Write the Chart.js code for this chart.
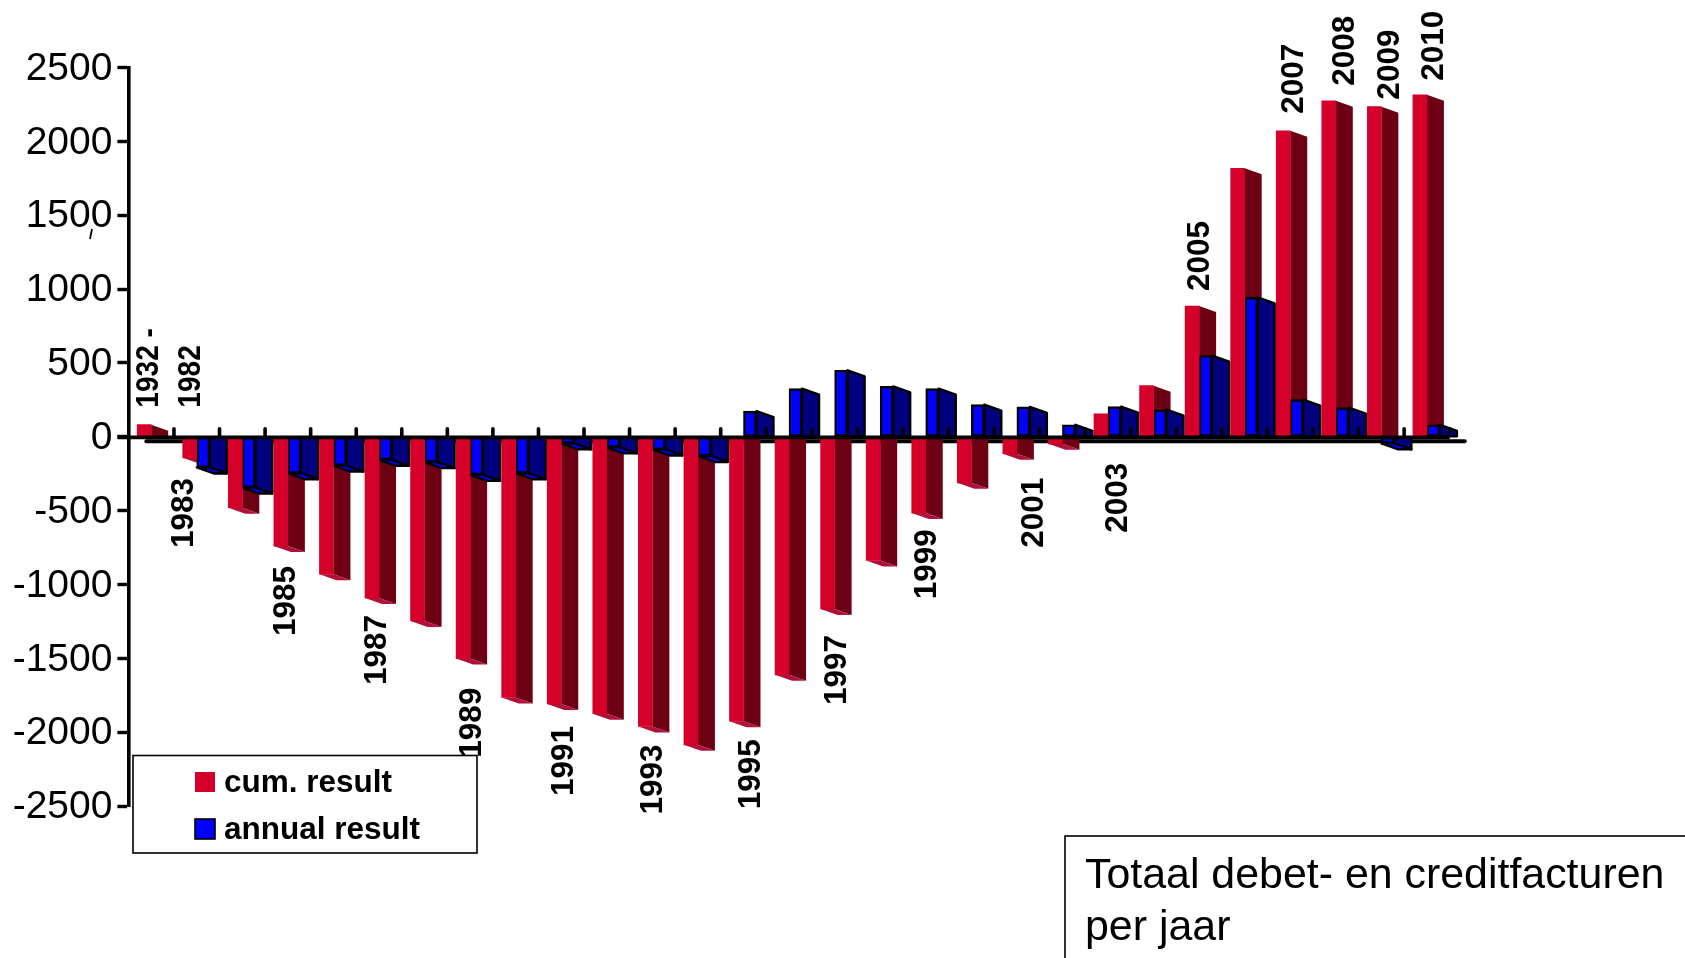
<!DOCTYPE html>
<html>
<head>
<meta charset="utf-8">
<title>Totaal debet- en creditfacturen per jaar</title>
<script src="https://cdn.jsdelivr.net/npm/chart.js@4/dist/chart.umd.js"></script>
<style>
  html, body { margin: 0; padding: 0; background: #fff; }
  canvas { display: block; }
</style>
</head>
<body>
<canvas id="myChart" width="1685" height="958"></canvas>
<script>
// datos
const jaren = ["1932-1982", "1983", "1984", "1985", "1986", "1987", "1988", "1989", "1990", "1991",
  "1992", "1993", "1994", "1995", "1996", "1997", "1998", "1999", "2000", "2001",
  "2002", "2003", "2004", "2005", "2006", "2007", "2008", "2009", "2010"];
const cumResult = [82, -143, -480, -740, -931, -1092, -1247, -1502, -1765, -1809,
  -1875, -1962, -2086, -1926, -1612, -1166, -838, -517, -312, -115,
  -48, 156, 346, 885, 1818, 2072, 2275, 2235, 2315];
const annualResult = [0, -208, -344, -247, -195, -156, -172, -258, -247, -45,
  -72, -86, -130, 173, 326, 450, 341, 326, 217, 202,
  81, 204, 183, 550, 944, 251, 197, -45, 81];
const yTicks = [2500, 2000, 1500, 1000, 500, 0, -500, -1000, -1500, -2000, -2500];

// etiquetas giradas: texto y categoria
const labelTexts = ["1932 -", "1982", "1983", "1985", "1987", "1989", "1991", "1993", "1995", "1997",
  "1999", "2001", "2003", "2005", "2007", "2008", "2009", "2010"];
const labelIndex = [0, 0, 1, 3, 5, 7, 9, 11, 13, 15, 17, 19, 21, 23, 25, 26, 27, 28];

// colocacion de las etiquetas respecto a la barra roja (no son datos)
const labelDx = [-2, 40, -12, -2, -2, 2, 3, 1, 8, 3, 2, 17, 10, 1, 4, 10, 9, 7];
const labelDy = [-17, -17, 20, 20, 17, 29, 22, 18, 18, 26, 16, 24, 49, -15, -17, -15, -7, -14];

const captionLines = ["Totaal debet- en creditfacturen", "per jaar"];

const ROJO = "#d40029", ROJO_LADO = "#6e0014", ROJO_BASE = "#b0103a";
const AZUL = "#0000ff", AZUL_LADO = "#000080";
const FUENTE = '"Liberation Sans", Arial, sans-serif';
const DEPTH_X = 17, DEPTH_Y = 6;

function polygon(ctx, pts, fill, stroke) {
  ctx.beginPath();
  pts.forEach((p, i) => (i ? ctx.lineTo(p[0], p[1]) : ctx.moveTo(p[0], p[1])));
  ctx.closePath();
  ctx.fillStyle = fill;
  ctx.fill();
  if (stroke) {
    ctx.strokeStyle = stroke;
    ctx.lineWidth = 2.4;
    ctx.lineJoin = "round";
    ctx.stroke();
  }
}

// caras laterales del efecto 3D, salen de la posicion real de cada barra
function drawFaces(chart, datasetIndex, side, bottom, stroke) {
  const ctx = chart.ctx;
  chart.getDatasetMeta(datasetIndex).data.forEach(bar => {
    const { x, y, base, width } = bar.getProps(["x", "y", "base", "width"], true);
    const left = x - width / 2, right = x + width / 2;
    if (y === base) return;
    if (y < base) {
      polygon(ctx, [[right, y], [right + DEPTH_X, y + DEPTH_Y], [right + DEPTH_X, base], [right, base]], side, stroke);
    } else {
      polygon(ctx, [[right, base], [right + DEPTH_X, base], [right + DEPTH_X, y + DEPTH_Y], [right, y]], side, stroke);
      polygon(ctx, [[left, y], [right, y], [right + DEPTH_X, y + DEPTH_Y], [left + DEPTH_X, y + DEPTH_Y]], bottom, stroke);
    }
  });
}

const faces3d = {
  id: "faces3d",
  beforeDatasetsDraw(chart) {
    const ctx = chart.ctx, area = chart.chartArea;
    const y0 = chart.scales.y.getPixelForValue(0);
    // eje del fondo, queda detras de las barras
    ctx.save();
    ctx.strokeStyle = "#000";
    ctx.lineWidth = 4;
    ctx.lineCap = "round";
    ctx.beginPath();
    ctx.moveTo(area.left + 18, y0 + 4.4);
    ctx.lineTo(area.right + 15, y0 + 4.4);
    ctx.stroke();
    drawFaces(chart, 0, ROJO_LADO, ROJO_BASE, null);
    drawFaces(chart, 1, AZUL_LADO, AZUL, "#000");
    ctx.restore();
  },
  afterDatasetsDraw(chart) {
    const ctx = chart.ctx, area = chart.chartArea;
    const xs = chart.scales.x, y0 = chart.scales.y.getPixelForValue(0);
    ctx.save();
    ctx.strokeStyle = "#000";
    // eje x delantero
    ctx.lineWidth = 3.6;
    ctx.beginPath();
    ctx.moveTo(area.left - 11, y0 + 0.6);
    ctx.lineTo(area.right, y0 + 0.6);
    ctx.stroke();
    // marcas entre categorias
    const paso = xs.getPixelForValue(1) - xs.getPixelForValue(0);
    ctx.lineWidth = 3.6;
    ctx.lineCap = "round";
    jaren.forEach((j, i) => {
      const x = xs.getPixelForValue(i) + paso / 2;
      ctx.beginPath();
      ctx.moveTo(x, y0 - 1);
      ctx.lineTo(x, y0 - 8);
      ctx.stroke();
    });
    ctx.restore();
  }
};

const textos = {
  id: "textos",
  afterDraw(chart) {
    const ctx = chart.ctx;
    const xs = chart.scales.x, ys = chart.scales.y;
    ctx.save();
    ctx.fillStyle = "#000";

    // etiquetas de los anos, las dos primeras van algo comprimidas
    ctx.font = "bold 31.5px " + FUENTE;
    ctx.textBaseline = "middle";
    labelTexts.forEach((t, i) => {
      const k = labelIndex[i];
      ctx.save();
      ctx.translate(xs.getPixelForValue(k) + labelDx[i], ys.getPixelForValue(cumResult[k]) + labelDy[i]);
      ctx.rotate(-Math.PI / 2);
      if (i < 2) ctx.scale(0.89, 1);
      ctx.textAlign = labelDy[i] > 0 ? "right" : "left";
      ctx.fillText(t, 0, 0);
      ctx.restore();
    });

    // trazo suelto junto al 1500
    ctx.strokeStyle = "#000";
    ctx.lineWidth = 1.8;
    ctx.beginPath();
    ctx.moveTo(92, 229);
    ctx.lineTo(90, 239);
    ctx.stroke();

    // leyenda
    ctx.fillStyle = "#fff";
    ctx.lineWidth = 1.6;
    ctx.fillRect(133, 755.5, 344, 97.5);
    ctx.strokeRect(133, 755.5, 344, 97.5);
    chart.data.datasets.forEach((ds, i) => {
      const top = 772 + i * 47;
      ctx.fillStyle = ds.backgroundColor;
      ctx.fillRect(195, top, 20, 20);
      if (i === 1) ctx.strokeRect(195, top, 20, 20);
      ctx.fillStyle = "#000";
      ctx.font = "bold 31.5px " + FUENTE;
      ctx.textAlign = "left";
      ctx.textBaseline = "alphabetic";
      ctx.fillText(ds.label, 224, top + 20);
    });

    // cuadro del titulo, se sale por la derecha y por abajo
    ctx.lineWidth = 1.6;
    ctx.strokeRect(1065, 836, 700, 200);
    ctx.font = "42.9px " + FUENTE;
    captionLines.forEach((t, i) => ctx.fillText(t, 1085, 888 + i * 52));
    ctx.restore();
  }
};

new Chart(document.getElementById("myChart"), {
  type: "bar",
  data: {
    labels: jaren,
    datasets: [
      { label: "cum. result", data: cumResult, backgroundColor: ROJO, barThickness: 14 },
      { label: "annual result", data: annualResult, backgroundColor: AZUL, barThickness: 13,
        borderColor: "#000", borderWidth: 2.4, borderSkipped: false }
    ]
  },
  options: {
    responsive: false,
    animation: false,
    devicePixelRatio: 1,
    layout: { padding: { left: 0, top: 67.5, right: 235.3, bottom: 152 } },
    plugins: { legend: { display: false }, tooltip: { enabled: false } },
    scales: {
      x: { display: false },
      y: {
        min: -2500,
        max: 2500,
        afterBuildTicks(scale) { scale.ticks = yTicks.map(v => ({ value: v })); },
        afterFit(scale) { scale.width = 128.4; },
        border: { color: "#000", width: 3.6 },
        grid: { drawOnChartArea: false, color: "#000", tickLength: 11, tickWidth: 3.4 },
        ticks: { color: "#000", padding: 5, autoSkip: false, labelOffset: 1.5,
          font: { family: FUENTE, size: 39 }, callback: v => String(v) }
      }
    }
  },
  plugins: [faces3d, textos]
});
</script>
</body>
</html>
